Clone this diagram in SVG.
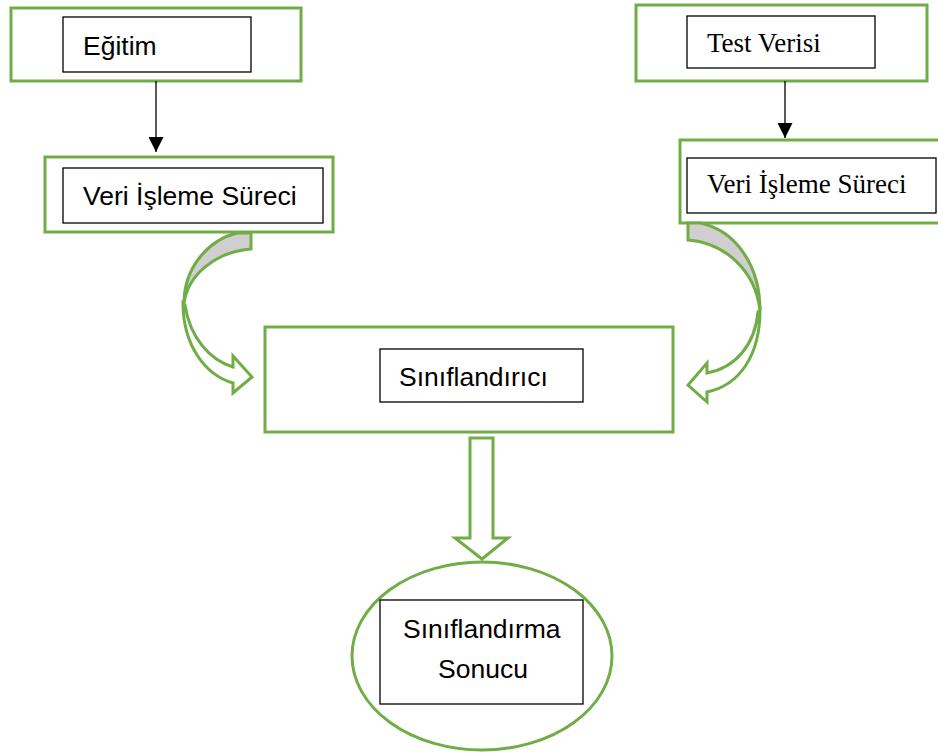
<svg xmlns="http://www.w3.org/2000/svg" width="938" height="753" viewBox="0 0 938 753">
<defs>
<style>
.g{fill:#fff;stroke:#70AD47;stroke-width:3}
.gs{fill:#D0CECE;stroke:#70AD47;stroke-width:3;stroke-linejoin:miter}
.gw{fill:#fff;stroke:#70AD47;stroke-width:3;stroke-linejoin:miter}
.b{fill:#fff;stroke:#000;stroke-width:1.3}
.s{font-family:"Liberation Sans",Arial,sans-serif;font-size:26.5px;fill:#000}
.t{font-family:"Liberation Serif","Times New Roman",serif;font-size:27px;fill:#000}
.c{stroke:#000;stroke-width:1.3;fill:none}
</style>
<marker id="ah" viewBox="0 0 10 10" refX="10" refY="5" markerWidth="15" markerHeight="15" markerUnits="userSpaceOnUse" orient="auto">
<path d="M0,0 L10,5 L0,10 Z" fill="#000"/>
</marker>
</defs>
<rect width="938" height="753" fill="#fff"/>
<g id="egitim">
<rect class="g" x="11" y="8" width="290" height="73"/>
<rect class="b" x="63" y="17" width="188" height="55"/>
<text class="s" x="83" y="55">Eğitim</text>
</g>
<g id="test-verisi">
<rect class="g" x="636" y="5" width="291" height="76"/>
<rect class="b" x="687" y="16" width="188" height="52"/>
<text class="t" x="707" y="52">Test Verisi</text>
</g>
<g id="veri-isleme-sol">
<rect class="g" x="45" y="157" width="288" height="75"/>
<rect class="b" x="63" y="168" width="260" height="55"/>
<text class="s" x="83" y="205">Veri İşleme Süreci</text>
</g>
<g id="veri-isleme-sag">
<rect class="g" x="680" y="140" width="262" height="83"/>
<rect class="b" x="687" y="158" width="249" height="55"/>
<text class="t" x="707" y="193">Veri İşleme Süreci</text>
</g>
<g id="siniflandirici">
<rect class="g" x="265" y="327" width="408" height="105"/>
<rect class="b" x="380" y="349" width="203" height="53"/>
<text class="s" x="399" y="386">Sınıflandırıcı</text>
</g>
<g id="siniflandirma-sonucu">
<ellipse class="g" cx="482" cy="656" rx="130" ry="94"/>
<rect class="b" x="380" y="600" width="203" height="104"/>
<text class="s" x="403" y="638">Sınıflandırma</text>
<text class="s" x="438" y="678">Sonucu</text>
</g>
<g id="connectors">
<line class="c" x1="156" y1="81" x2="156" y2="152" marker-end="url(#ah)"/>
<line class="c" x1="785" y1="81" x2="785" y2="138" marker-end="url(#ah)"/>
<path class="gs" d="M237,233 L251,233 L251,249 C215,252 188,275 184,303 C184,268 208,240 237,233 Z"/>
<path class="gw" d="M183,303 C183,345 205,375 233,383 L233,393 L252,377 L233,356 L233,367 C210,360 190,338 185,305 Z"/>
<path class="gs" d="M688,223 L700,223 C735,230 760,265 760,310 C755,270 725,243 688,240 Z"/>
<path class="gw" d="M760,310 C760,355 740,385 707,392 L707,402 L688,385 L707,363 L707,373 C735,368 755,345 758,312 Z"/>
<path class="gw" d="M470,438 L493,438 L493,538 L508,538 L482,559 L455,538 L470,538 Z"/>
</g>
</svg>
